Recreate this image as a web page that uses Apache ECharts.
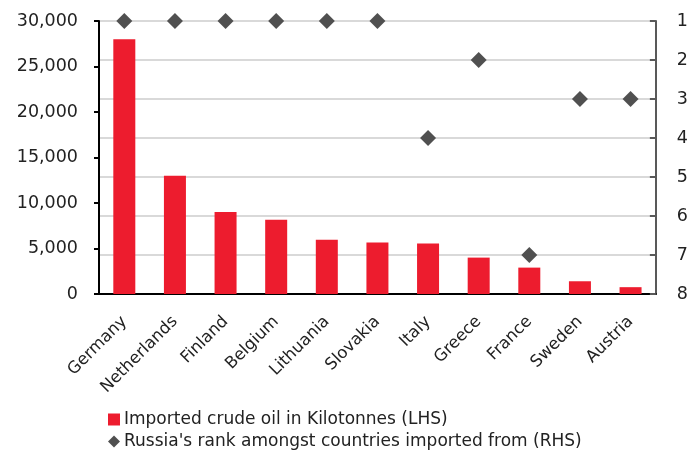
<!DOCTYPE html>
<html><head><meta charset="utf-8">
<script src="https://cdn.jsdelivr.net/npm/echarts@6/dist/echarts.min.js"></script>
<style>html,body{margin:0;padding:0;background:#fff}#c{width:691px;height:455px}</style>
</head><body><div id="c"></div>
<script>
const categories = ['Germany','Netherlands','Finland','Belgium','Lithuania','Slovakia','Italy','Greece','France','Sweden','Austria'];
const importedKt = [28000, 13000, 9000, 8150, 5950, 5650, 5550, 4000, 2900, 1400, 750];
const russiaRank = [1, 1, 1, 1, 1, 1, 4, 2, 7, 3, 3];
const leftTicks = [0, 30000, 5000];
const rightTicks = [1, 8, 1];
const seriesNames = ['Imported crude oil in Kilotonnes (LHS)', "Russia's rank amongst countries imported from (RHS)"];

const font = '"DejaVu Sans", "Open Sans", sans-serif';
const legendText = {fontFamily: font, fontSize: 17, color: '#222', padding: [0,0,0,-1]};
const chart = echarts.init(document.getElementById('c'), null, {renderer: 'canvas'});
chart.setOption({
  animation: false,
  textStyle: {fontFamily: font},
  grid: {left: 99, right: 35, top: 21, bottom: 161, containLabel: false},
  legend: [
    {left: 108, top: 411, itemWidth: 12, itemHeight: 12, padding: 0,
      textStyle: legendText, data: [{name: seriesNames[0], icon: 'rect'}]},
    {left: 108, top: 433, itemWidth: 12, itemHeight: 12, padding: 0,
      textStyle: legendText, data: [{name: seriesNames[1], icon: 'diamond'}]}
  ],
  xAxis: {
    type: 'category', data: categories, boundaryGap: true,
    axisLine: {lineStyle: {color: '#000', width: 2}},
    axisTick: {inside: true, length: 6, lineStyle: {color: '#000', width: 2}},
    axisLabel: {rotate: 45, fontSize: 16.5, color: '#222', margin: 25, interval: 0, fontFamily: font}
  },
  yAxis: [
    {
      type: 'value', min: leftTicks[0], max: leftTicks[1], interval: leftTicks[2], position: 'left',
      axisLine: {show: true, lineStyle: {color: '#000', width: 2}},
      axisTick: {show: true, inside: false, length: 5, lineStyle: {color: '#000', width: 2}},
      splitLine: {show: false},
      axisLabel: {fontSize: 17.5, color: '#222', margin: 21, fontFamily: font,
        formatter: v => v.toLocaleString('en-US')}
    },
    {
      type: 'value', min: rightTicks[0], max: rightTicks[1], interval: rightTicks[2], position: 'right', inverse: true,
      axisLine: {show: true, lineStyle: {color: '#595959', width: 2}},
      axisTick: {show: true, inside: true, length: 6, lineStyle: {color: '#595959', width: 2}},
      splitLine: {show: true, lineStyle: {color: '#d9d9d9', width: 2}},
      axisLabel: {fontSize: 17.5, color: '#222', margin: 21, fontFamily: font}
    }
  ],
  series: [
    {name: seriesNames[0], type: 'bar', yAxisIndex: 0, data: importedKt, barWidth: 22,
      itemStyle: {color: '#ED1C2E'}, z: 2},
    {name: seriesNames[1], type: 'scatter', yAxisIndex: 1, data: russiaRank, symbol: 'diamond', symbolSize: 16,
      itemStyle: {color: '#505050', opacity: 1}, z: 3}
  ]
});
</script></body></html>
